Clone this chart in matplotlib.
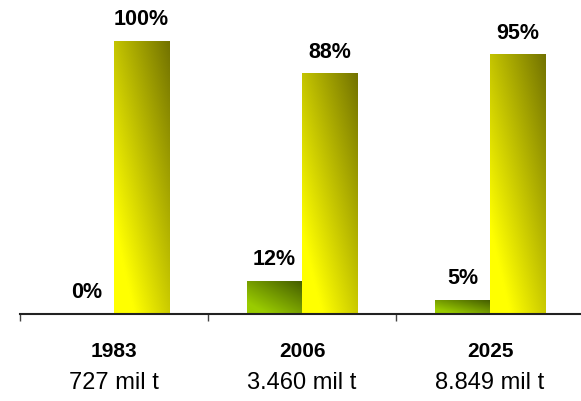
import numpy as np
import matplotlib
matplotlib.use("Agg")
import matplotlib.pyplot as plt
from matplotlib.colors import LinearSegmentedColormap

plt.rcParams['font.family'] = ['Liberation Sans', 'DejaVu Sans']

years = ["1983", "2006", "2025"]
totals = ["727 mil t", "3.460 mil t", "8.849 mil t"]
share_green = [0, 12, 5]
share_yellow = [100, 88, 95]

fig = plt.figure(figsize=(5.81, 4.02), dpi=100)
ax = fig.add_axes([20 / 581, (402 - 315) / 402, 564 / 581, 315 / 402])

x = np.arange(len(years))
width = 0.293
ymax = 315 / 273 * 100

green_cmap = LinearSegmentedColormap.from_list("g", ["#9acc00", "#3f5600"])
yellow_cmap = LinearSegmentedColormap.from_list("y", ["#ffff00", "#6b6b00"])

bars_g = ax.bar(x - width / 2, share_green, width, color="none", edgecolor="none")
bars_y = ax.bar(x + width / 2, share_yellow, width, color="none", edgecolor="none")

# diagonal shading: bright at bottom-left, dark towards top-right
n = 200
u = np.linspace(0, 1, n)
U, V = np.meshgrid(u, u)
grad = np.clip(0.55 * U + 0.6 * V - 0.2, 0, 1)


def fill_gradient(bars, cmap):
    for b in bars:
        h = b.get_height()
        if h <= 0:
            continue
        x0 = b.get_x()
        ax.imshow(grad, cmap=cmap, origin="lower", aspect="auto",
                  extent=(x0, x0 + b.get_width(), 0, h), interpolation="bilinear",
                  vmin=0, vmax=1, zorder=2)


fill_gradient(bars_g, green_cmap)
fill_gradient(bars_y, yellow_cmap)

for bars, vals in ((bars_g, share_green), (bars_y, share_yellow)):
    for b, v in zip(bars, vals):
        ax.annotate(f"{v}%", (b.get_x() + b.get_width() / 2, v),
                    xytext=(0, 12.3), textcoords="offset points",
                    ha="center", va="baseline", fontsize=15.5, fontweight="bold")

for xi, yr, tot in zip(x, years, totals):
    ax.annotate(yr, (xi, 0), xytext=(0, -30.5), textcoords="offset points",
                ha="center", va="baseline", fontsize=15, fontweight="bold",
                annotation_clip=False)
    ax.annotate(tot, (xi, 0), xytext=(0, -53.5), textcoords="offset points",
                ha="center", va="baseline", fontsize=17, annotation_clip=False)

ax.set_xlim(-0.5, 2.5)
ax.set_ylim(0, ymax)
for s in ("top", "right", "left"):
    ax.spines[s].set_visible(False)
ax.spines["bottom"].set_linewidth(1.5)
ax.spines["bottom"].set_color("#222222")
ax.set_yticks([])
ax.set_xticks([])
ax.set_xticks([-0.5, 0.5, 1.5, 2.5], minor=True)
ax.tick_params(axis="x", which="minor", length=5, width=1, color="#444444")
ax.patch.set_visible(False)

fig.savefig("out.png", dpi=100)
